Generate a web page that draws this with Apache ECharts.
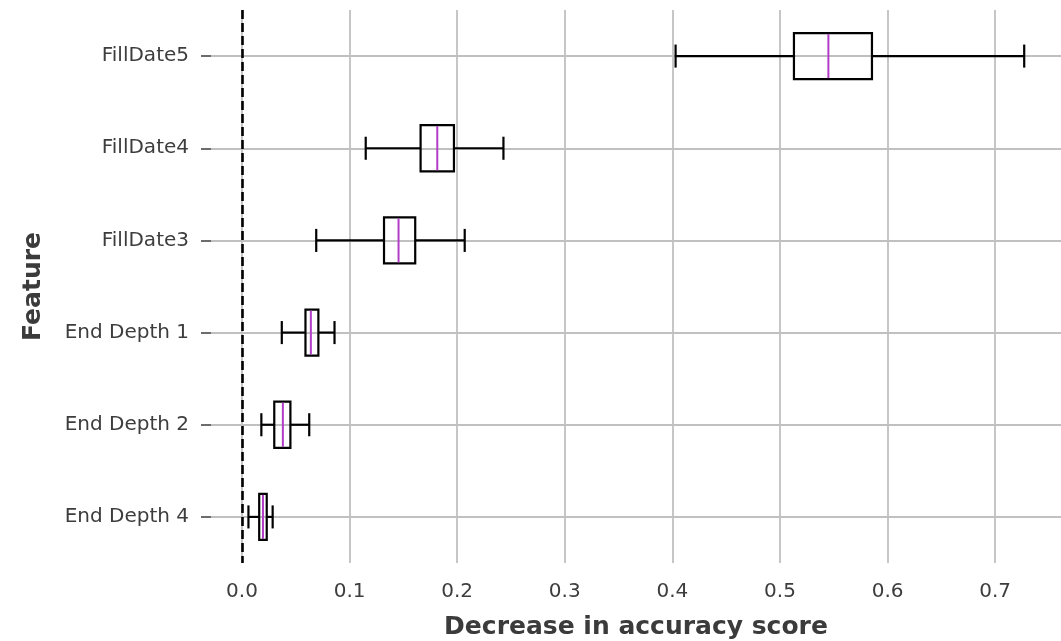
<!DOCTYPE html>
<html>
<head>
<meta charset="utf-8">
<script src="https://cdn.jsdelivr.net/npm/echarts@6/dist/echarts.min.js"></script>
<style>html,body{margin:0;padding:0;background:#fff;}#c{width:1061px;height:641px;}</style>
</head>
<body>
<div id="c"></div>
<script>
var features = ['FillDate5', 'FillDate4', 'FillDate3', 'End Depth 1', 'End Depth 2', 'End Depth 4'];
var whiskerLow  = [0.403, 0.115, 0.069, 0.037, 0.018, 0.006];
var q1          = [0.513, 0.166, 0.132, 0.059, 0.030, 0.016];
var median      = [0.545, 0.1815, 0.1455, 0.064, 0.038, 0.0195];
var q3          = [0.5855, 0.197, 0.161, 0.071, 0.045, 0.023];
var whiskerHigh = [0.727, 0.243, 0.207, 0.086, 0.0625, 0.0285];
var xTicks = [0, 0.1, 0.2, 0.3, 0.4, 0.5, 0.6, 0.7];
var yTicks = [1, 2, 3, 4, 5, 6];

var data = features.map(function (f, i) {
  return [i + 1, whiskerLow[i], q1[i], median[i], q3[i], whiskerHigh[i]];
});

var textColor = '#3d3d3d';
var gridColor = '#c0c0c0';

function renderItem(params, api) {
  var y = api.value(0);
  var band = api.size([0, 1])[1];
  var hb = band * 0.25, hc = band * 0.125;
  var pLo = api.coord([api.value(1), y]);
  var pQ1 = api.coord([api.value(2), y]);
  var pMd = api.coord([api.value(3), y]);
  var pQ3 = api.coord([api.value(4), y]);
  var pHi = api.coord([api.value(5), y]);
  var cy = pLo[1];
  var black = { stroke: '#000', lineWidth: 2.2, fill: null };
  return {
    type: 'group',
    children: [
      { type: 'line', shape: { x1: pLo[0], y1: cy, x2: pQ1[0], y2: cy }, style: black },
      { type: 'line', shape: { x1: pQ3[0], y1: cy, x2: pHi[0], y2: cy }, style: black },
      { type: 'line', shape: { x1: pLo[0], y1: cy - hc, x2: pLo[0], y2: cy + hc }, style: black },
      { type: 'line', shape: { x1: pHi[0], y1: cy - hc, x2: pHi[0], y2: cy + hc }, style: black },
      { type: 'rect', shape: { x: pQ1[0], y: cy - hb, width: pQ3[0] - pQ1[0], height: 2 * hb }, style: black },
      { type: 'line', shape: { x1: pMd[0], y1: cy - hb + 1, x2: pMd[0], y2: cy + hb - 1 }, style: { stroke: '#b23cc8', lineWidth: 2 } }
    ]
  };
}

var chart = echarts.init(document.getElementById('c'), null, { renderer: 'canvas' });
chart.setOption({
  backgroundColor: '#fff',
  animation: false,
  grid: { left: 211, top: 10, right: 0, height: 553, containLabel: false, outerBoundsMode: 'none' },
  xAxis: {
    type: 'value',
    min: -0.0288,
    max: 0.7612,
    name: 'Decrease in accuracy score',
    nameLocation: 'middle',
    nameGap: 52,
    nameTextStyle: { fontFamily: 'DejaVu Sans', fontSize: 25, fontWeight: 'bold', color: '#3b3b3b' },
    axisLine: { show: false, onZero: false },
    axisTick: { show: false, customValues: xTicks },
    axisLabel: {
      customValues: xTicks,
      fontFamily: 'DejaVu Sans', fontSize: 20, color: textColor, margin: 19,
      formatter: function (v) { return v.toFixed(1); }
    },
    splitLine: { show: true, lineStyle: { color: gridColor, width: 1.8 } }
  },
  yAxis: {
    type: 'value',
    min: 0.5,
    max: 6.5,
    inverse: true,
    name: 'Feature',
    nameLocation: 'middle',
    nameGap: 165,
    nameRotate: 90,
    nameTextStyle: { fontFamily: 'DejaVu Sans', fontSize: 25, fontWeight: 'bold', color: '#3b3b3b' },
    axisLine: { show: false, onZero: false },
    axisTick: { show: true, inside: false, length: 10, customValues: yTicks, lineStyle: { color: textColor, width: 1.5 } },
    axisLabel: {
      customValues: yTicks,
      fontFamily: 'DejaVu Sans', fontSize: 20, color: textColor, margin: 22,
      formatter: function (v) { return features[Math.round(v) - 1] || ''; }
    },
    splitLine: { show: true, lineStyle: { color: gridColor, width: 1.8 } }
  },
  series: [{
    type: 'custom',
    renderItem: renderItem,
    data: data,
    encode: { x: [1, 2, 3, 4, 5], y: 0 },
    clip: false,
    z: 3,
    markLine: {
      silent: true,
      symbol: 'none',
      label: { show: false },
      lineStyle: { color: '#000', width: 2.6, type: [9, 4] },
      data: [{ xAxis: 0 }],
      z: 4
    }
  }]
});
</script>
</body>
</html>
